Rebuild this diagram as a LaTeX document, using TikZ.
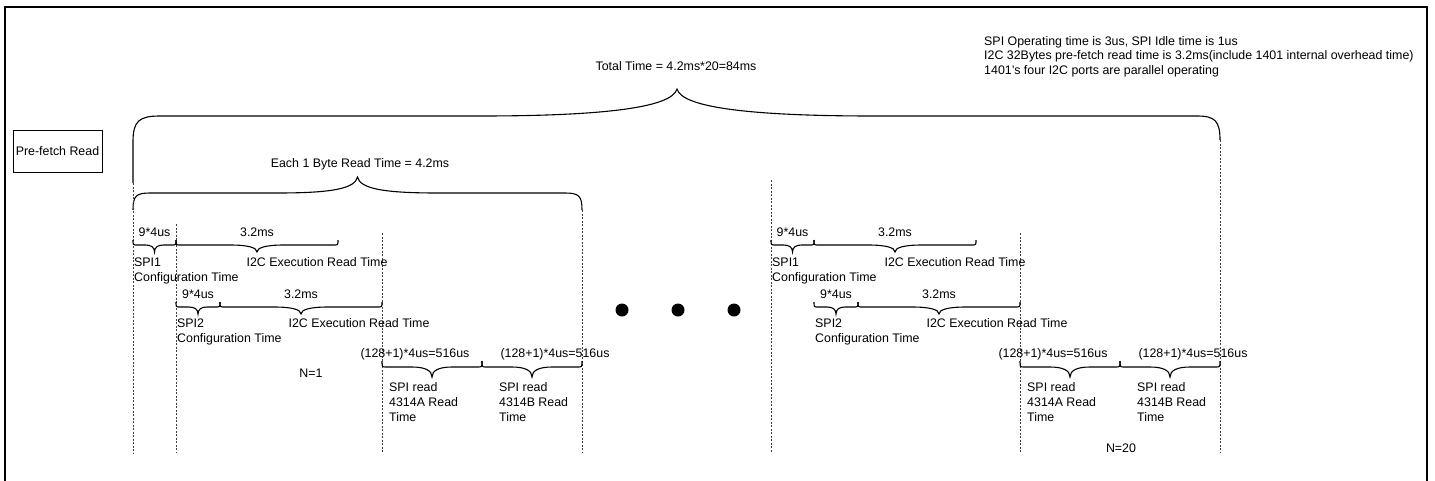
\documentclass[tikz,border=0pt]{standalone}
\usepackage{fontspec}
\setmainfont{Liberation Sans}
\newcommand{\mybrace}[6]{% x1, x2, yend, ymid, ytip, shoulder
  \draw[brc] (#1,#3) .. controls (#1,#4) .. ({#1+4},#4)
    -- ({(#1+#2)/2-#6},#4)
    .. controls ({(#1+#2)/2-0.35*#6},#4) and ({(#1+#2)/2},{#4+0.35*(#5-#4)}) .. ({(#1+#2)/2},#5)
    .. controls ({(#1+#2)/2},{#4+0.35*(#5-#4)}) and ({(#1+#2)/2+0.35*#6},#4) .. ({(#1+#2)/2+#6},#4)
    -- ({#2-4},#4) .. controls (#2,#4) .. (#2,#3);}
\newcommand{\timinggroup}[2]{% #1 prefix, #2 x offset
  \begin{scope}[xshift=#2pt]
  % row 1
  \node[txt, anchor=base] (#1ca) at (154.5,236.5) {9*4us};
  \node[txt, anchor=base] (#1ea) at (257,236.5) {3.2ms};
  \mybrace{133}{176}{240}{245}{252}{9}
  \mybrace{176}{338}{240}{245}{252}{27}
  \node[txt, anchor=base west] (#1sa) at (134,266) {SPI1};
  \node[txt, anchor=base west] (#1sb) at (134,281) {Configuration Time};
  \node[txt, anchor=base] (#1ia) at (317,266) {I2C Execution Read Time};
  % row 2
  \node[txt, anchor=base] (#1cb) at (198,298) {9*4us};
  \node[txt, anchor=base] (#1eb) at (301,298) {3.2ms};
  \mybrace{176}{220}{302}{307}{314}{9}
  \mybrace{220}{382}{302}{307}{314}{27}
  \node[txt, anchor=base west] (#1sc) at (177,327) {SPI2};
  \node[txt, anchor=base west] (#1sd) at (177,342) {Configuration Time};
  \node[txt, anchor=base] (#1ib) at (359,327) {I2C Execution Read Time};
  % row 3
  \node[txt, anchor=base] (#1ra) at (415,357) {(128+1)*4us=516us};
  \node[txt, anchor=base] (#1rb) at (555,357) {(128+1)*4us=516us};
  \mybrace{382}{482}{361}{367}{377}{20}
  \mybrace{482}{582}{361}{367}{377}{20}
  \node[txt, anchor=base west] (#1pa) at (389,391) {SPI read};
  \node[txt, anchor=base west] (#1pb) at (389,406) {4314A Read};
  \node[txt, anchor=base west] (#1pc) at (389,421) {Time};
  \node[txt, anchor=base west] (#1qa) at (499,391) {SPI read};
  \node[txt, anchor=base west] (#1qb) at (499,406) {4314B Read};
  \node[txt, anchor=base west] (#1qc) at (499,421) {Time};
  \end{scope}}
\begin{document}
\begin{tikzpicture}[x=1pt,y=-1pt,
  txt/.style={font=\fontsize{12.4}{15}\selectfont, inner sep=0pt},
  brc/.style={draw=black, line width=1.1pt},
  dsh/.style={draw=black!75, line width=0.7pt, dash pattern=on 2pt off 1.5pt},
  framebox/.style={draw=black, line width=1.6pt},
  labelbox/.style={draw=black, line width=0.9pt, minimum width=89pt, minimum height=42pt, inner sep=0pt},
  bigdot/.style={fill=black, circle, inner sep=0pt, minimum size=13pt}]
\useasboundingbox (0,0) rectangle (1435,480);
\fill[white] (0,0) rectangle (1435,480);
\draw[framebox] (5,7) rectangle (1427,495);

% label box
\node[labelbox, txt] (pre) at (57.5,151) {Pre-fetch Read};

% top texts
\node[txt, anchor=base] (total) at (676,70) {Total Time = 4.2ms*20=84ms};
\node[txt, anchor=base west] (n1) at (984,45) {SPI Operating time is 3us, SPI Idle time is 1us};
\node[txt, anchor=base west] (n2) at (984,59.5) {I2C 32Bytes pre-fetch read time is 3.2ms(include 1401 internal overhead time)};
\node[txt, anchor=base west] (n3) at (984,74) {1401’s four I2C ports are parallel operating};

% big brace
\draw[brc] (133,183) -- (133,142) .. controls (133,121) and (139,116) .. (160,116)
  -- (480,116) .. controls (600,116) and (672,108) .. (677,89)
  .. controls (682,108) and (754,116) .. (874,116)
  -- (1197,116) .. controls (1215,116) and (1220,121) .. (1220,140);

% each byte brace
\node[txt, anchor=base] (each) at (360,167.5) {Each 1 Byte Read Time = 4.2ms};
\draw[brc] (133,210) .. controls (133,196) and (136,193) .. (150,193)
  -- (277,193) .. controls (330,193) and (355,189) .. (357.5,177)
  .. controls (360,189) and (385,193) .. (438,193)
  -- (565,193) .. controls (579,193) and (582,196) .. (582,210);

% dashed guides
\draw[dsh] (133,183) -- (133,453);
\draw[dsh] (176,224) -- (176,453);
\draw[dsh] (382,233) -- (382,453);
\draw[dsh] (582,210) -- (582,453);
\draw[dsh] (771,180) -- (771,453);
\draw[dsh] (1020,233) -- (1020,453);
\draw[dsh] (1220,140) -- (1220,453);

\timinggroup{L}{0}
\timinggroup{R}{638}

\node[txt, anchor=base] (nA) at (311,377) {N=1};
\node[txt, anchor=base] (nB) at (1121,452) {N=20};

% dots
\node[bigdot] (d1) at (622,310) {};
\node[bigdot] (d2) at (678,310) {};
\node[bigdot] (d3) at (734,310) {};
\end{tikzpicture}
\end{document}
